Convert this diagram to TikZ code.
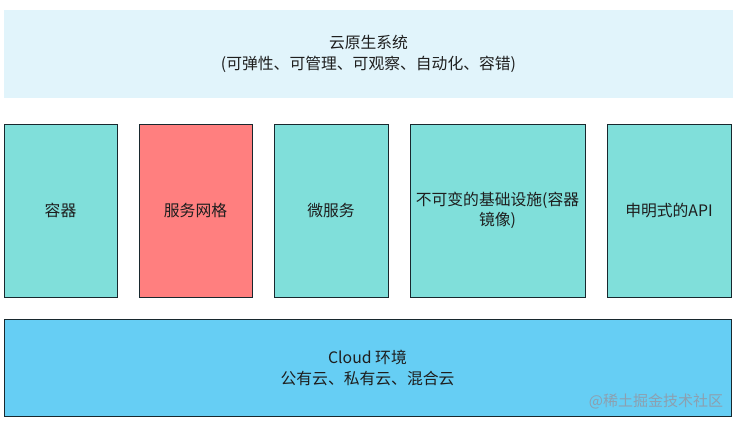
\documentclass[tikz,border=0pt]{standalone}
\usepackage{fontspec}
\setmainfont{Noto Sans CJK SC}
\usetikzlibrary{positioning}
\definecolor{cnsfill}{RGB}{225,244,251}
\definecolor{compfill}{RGB}{128,223,218}
\definecolor{meshfill}{RGB}{255,127,127}
\definecolor{cloudfill}{RGB}{102,206,244}
\definecolor{edgeline}{RGB}{24,40,46}
\definecolor{txt}{RGB}{30,30,30}
\definecolor{markgray}{RGB}{140,160,176}

\begin{document}
\begin{tikzpicture}[
    x=1pt, y=-1pt,
    node distance=22pt and 22pt,
    sysbox/.style={fill=cnsfill, align=center, inner sep=0pt, outer sep=0pt, text=txt, font=\fontsize{15.8}{21}\selectfont},
    compbox/.style={draw=edgeline, line width=0.9pt, fill=compfill, align=center, inner sep=0pt, outer sep=0pt, minimum height=173pt, text=txt, font=\fontsize{15.8}{20}\selectfont},
    meshbox/.style={compbox, fill=meshfill},
    cloudbox/.style={draw=edgeline, line width=0.9pt, fill=cloudfill, align=center, inner sep=0pt, outer sep=0pt, text=txt, font=\fontsize{15.8}{21}\selectfont},
    wmtext/.style={text=markgray, font=\fontsize{15}{16}\selectfont}
]
\useasboundingbox (0,0) rectangle (739,424);
\node[sysbox, anchor=north west, minimum width=729pt, minimum height=88pt] (cns) at (4,10) {云原生系统\\(可弹性、可管理、可观察、自动化、容错)};
\node[compbox, anchor=north west, minimum width=113pt] (container) at (4,124) {容器};
\node[meshbox, minimum width=113pt, right=of container] (mesh) {服务网格};
\node[compbox, minimum width=114pt, right=of mesh] (micro) {微服务};
\node[compbox, minimum width=175pt, right=of micro] (infra) {不可变的基础设施(容器\\镜像)};
\node[compbox, minimum width=124pt, right=of infra] (api) {申明式的API};
\node[cloudbox, anchor=north west, minimum width=727pt, minimum height=97pt] (cloud) at (4,319) {Cloud 环境\\公有云、私有云、混合云};
\node[wmtext] (wm) at (656,401) {@稀土掘金技术社区};
\end{tikzpicture}
\end{document}
